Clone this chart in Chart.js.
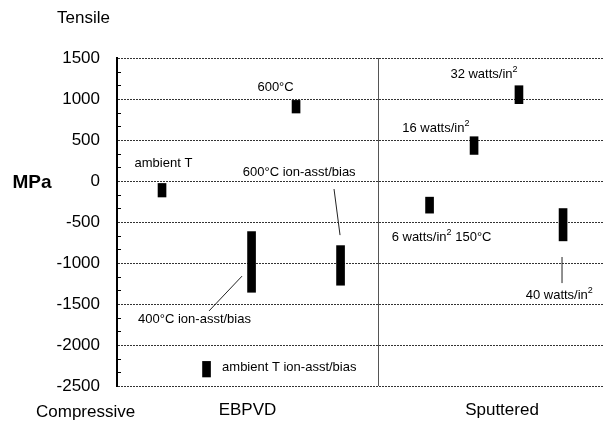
<!DOCTYPE html>
<html><head><meta charset="utf-8">
<script src="https://cdn.jsdelivr.net/npm/chart.js@4/dist/chart.umd.min.js"></script>
<style>html,body{margin:0;padding:0;background:#fff}#wrap{width:603px;height:426px}</style>
</head><body><div id="wrap"><canvas id="c" width="603" height="426"></canvas></div>
<script>
// ---- data ----
const groups = ['EBPVD', 'Sputtered'];
const groupPos = [1, 2.95];
const dividerPos = 2;
const sampleLabels = ['ambient T', 'ambient T ion-asst/bias', '400°C ion-asst/bias', '600°C', '600°C ion-asst/bias',
  '6 watts/in^2 150°C', '16 watts/in^2', '32 watts/in^2', '40 watts/in^2'];
const sampleX = [0.345, 0.686, 1.031, 1.372, 1.713, 2.395, 2.736, 3.08, 3.418];
const stressLow = [-195, -2390, -1357, 829, -1271, -392, 324, 943, -730];
const stressHigh = [-30, -2200, -617, 983, -788, -197, 540, 1162, -336];
const yTicks = [1500, 1000, 500, 0, -500, -1000, -1500, -2000, -2500];
const yTitle = 'MPa';
const topNote = 'Tensile';
const bottomNote = 'Compressive';

// ---- annotation layout (label anchor in data units, leader lines) ----
const labelAt = [
  [0.356, 210], [1.32, -2272], [0.594, -1683], [1.215, 1142], [1.396, 109],
  [2.487, -685], [2.443, 646], [2.812, 1297], [3.389, -1390]
];
const leaders = [
  [[0.705, -1585], [0.958, -1160]],
  [[1.663, -98], [1.709, -660]],
  [[3.41, -927], [3.41, -1245]]
];

const FONT = '"Liberation Sans", Arial, Helvetica, sans-serif';

function drawRich(ctx, text, cx, cy, size) {
  const parts = text.split(/\^(\d)/);
  const supSize = Math.round(size * 0.7);
  let segs = [];
  parts.forEach((p, i) => { if (p !== '') segs.push({t: p, sup: i % 2 === 1}); });
  let total = 0;
  segs.forEach(s => {
    ctx.font = (s.sup ? supSize : size) + 'px ' + FONT;
    s.w = ctx.measureText(s.t).width; total += s.w;
  });
  let x = cx - total / 2;
  ctx.textAlign = 'left';
  ctx.textBaseline = 'middle';
  segs.forEach(s => {
    ctx.font = (s.sup ? supSize : size) + 'px ' + FONT;
    ctx.fillText(s.t, x, s.sup ? cy - size * 0.38 : cy);
    x += s.w;
  });
}

const overlay = {
  id: 'overlay',
  afterDraw(chart) {
    const {ctx, chartArea: a, scales: {x, y}} = chart;
    ctx.save();
    // divider
    const dx = Math.round(x.getPixelForValue(dividerPos)) + 0.5;
    ctx.strokeStyle = '#555'; ctx.lineWidth = 1; ctx.setLineDash([]);
    ctx.beginPath(); ctx.moveTo(dx, a.top); ctx.lineTo(dx, a.bottom); ctx.stroke();
    // minor ticks on y axis
    ctx.strokeStyle = '#000'; ctx.lineWidth = 1;
    for (let v = -2500; v < 1500; v += 500) {
      for (let k = 1; k < 3; k++) {
        const py = Math.round(y.getPixelForValue(v + k * 500 / 3)) + 0.5;
        ctx.beginPath(); ctx.moveTo(a.left, py); ctx.lineTo(a.left + 4, py); ctx.stroke();
      }
    }
    // leader lines
    ctx.strokeStyle = '#222'; ctx.lineWidth = 1;
    leaders.forEach(l => {
      ctx.beginPath();
      ctx.moveTo(x.getPixelForValue(l[0][0]), y.getPixelForValue(l[0][1]));
      ctx.lineTo(x.getPixelForValue(l[1][0]), y.getPixelForValue(l[1][1]));
      ctx.stroke();
    });
    // sample labels
    ctx.fillStyle = '#000';
    sampleLabels.forEach((t, i) => {
      drawRich(ctx, t, x.getPixelForValue(labelAt[i][0]), y.getPixelForValue(labelAt[i][1]), 13);
    });
    // group labels
    ctx.font = '17px ' + FONT; ctx.textAlign = 'center'; ctx.textBaseline = 'middle';
    groups.forEach((g, i) => ctx.fillText(g, x.getPixelForValue(groupPos[i]), a.bottom + 24));
    // notes
    ctx.textAlign = 'left';
    ctx.fillText(topNote, 57, 18);
    ctx.fillText(bottomNote, 36, a.bottom + 26);
    ctx.font = 'bold 19px ' + FONT; ctx.textAlign = 'center';
    ctx.fillText(yTitle, 32, y.getPixelForValue(0) + 2);
    ctx.restore();
  }
};

new Chart(document.getElementById('c'), {
  type: 'bar',
  data: {
    datasets: [{
      data: sampleX.map((v, i) => ({x: v, y: [stressLow[i], stressHigh[i]]})),
      backgroundColor: '#000', borderWidth: 0, barThickness: 8, grouped: false
    }]
  },
  options: {
    responsive: false, animation: false,
    layout: {padding: {left: 0, right: 0, top: 58, bottom: 40}},
    plugins: {legend: {display: false}, tooltip: {enabled: false}},
    scales: {
      x: {
        type: 'linear', min: 0, max: 3.724, offset: false,
        grid: {display: false, offset: false}, ticks: {display: false},
        border: {display: false},
        afterFit(s) { s.height = 0; }
      },
      y: {
        type: 'linear', min: -2500, max: 1500,
        afterBuildTicks(s) { s.ticks = yTicks.map(v => ({value: v})); },
        ticks: {font: {family: FONT, size: 17}, color: '#000', padding: 17, callback: v => String(v)},
        grid: {color: '#333', drawTicks: false, lineWidth: 1},
        border: {display: true, color: '#000', width: 2, dash: [2, 1]},
        afterFit(s) { s.width = 117; }
      }
    }
  },
  plugins: [overlay]
});
</script>
</body></html>
